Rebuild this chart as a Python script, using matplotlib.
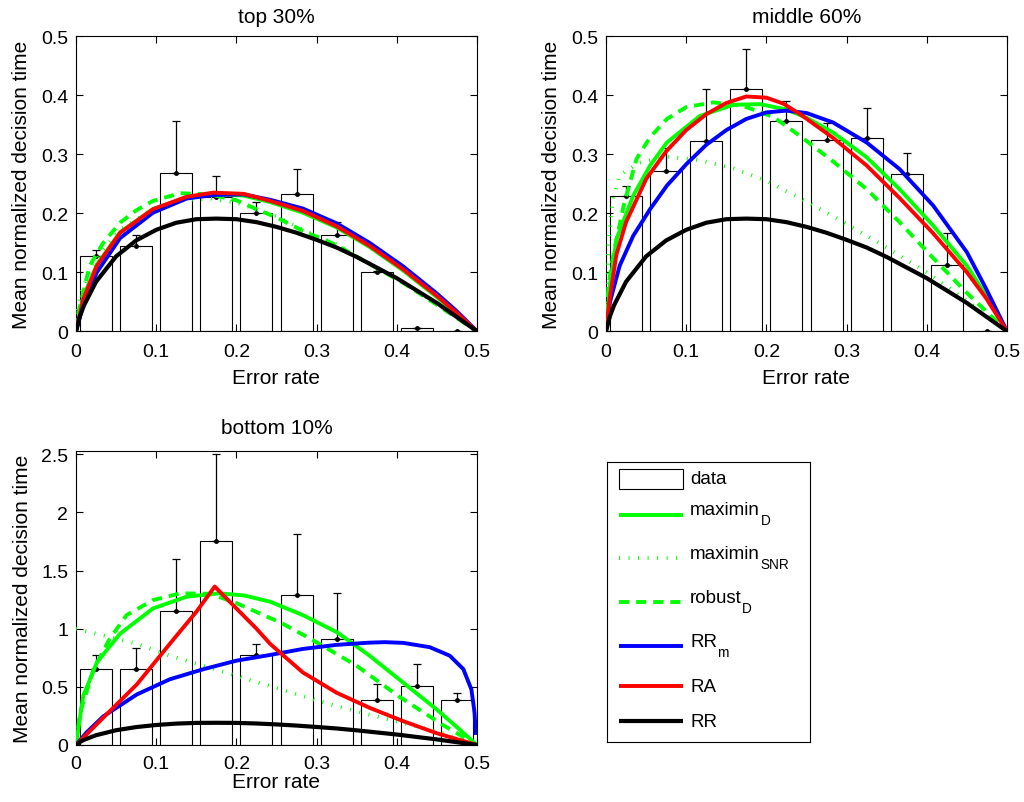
import matplotlib
matplotlib.use("Agg")
import matplotlib.pyplot as plt
from matplotlib.patches import Rectangle

plt.rcParams['font.family'] = ['Liberation Sans', 'DejaVu Sans']

# ---------------- data ----------------
BIN_CENTERS = [0.025, 0.075, 0.125, 0.175, 0.225, 0.275, 0.325, 0.375, 0.425, 0.475]
X_TICKS = [0, 0.1, 0.2, 0.3, 0.4, 0.5]
X_TICKLABELS = ["0", "0.1", "0.2", "0.3", "0.4", "0.5"]
Y_TICKS_TOP = [0, 0.1, 0.2, 0.3, 0.4, 0.5]
Y_TICKLABELS_TOP = ["0", "0.1", "0.2", "0.3", "0.4", "0.5"]
Y_TICKS_BOT = [0, 0.5, 1, 1.5, 2, 2.5]
Y_TICKLABELS_BOT = ["0", "0.5", "1", "1.5", "2", "2.5"]
TITLES = ["top 30%", "middle 60%", "bottom 10%"]
LEGEND_MAIN = ["data", "maximin", "maximin", "robust", "RR", "RA", "RR"]
LEGEND_SUB = ["", "D", "SNR", "D", "m", "", ""]

# data bars: means and upper error (SEM)
TOP_MEAN = [0.127, 0.145, 0.268, 0.228, 0.201, 0.233, 0.164, 0.101, 0.005, 0.0]
TOP_SEM = [0.011, 0.019, 0.088, 0.035, 0.019, 0.042, 0.022, 0.002, 0.001, 0.0]
MID_MEAN = [0.229, 0.272, 0.322, 0.410, 0.356, 0.325, 0.327, 0.266, 0.112, 0.0]
MID_SEM = [0.018, 0.039, 0.089, 0.068, 0.035, 0.028, 0.052, 0.037, 0.054, 0.0]
BOT_MEAN = [0.652, 0.652, 1.155, 1.751, 0.777, 1.290, 0.913, 0.383, 0.507, 0.391]
BOT_SEM = [0.122, 0.186, 0.445, 0.748, 0.095, 0.527, 0.397, 0.139, 0.189, 0.052]

# RR optimal performance curve (same in all panels)
RR_X = [0, 0.005, 0.01, 0.025, 0.05, 0.075, 0.1, 0.125, 0.15, 0.175, 0.2, 0.225,
        0.25, 0.275, 0.3, 0.325, 0.35, 0.375, 0.4, 0.425, 0.45, 0.475, 0.5]
RR_Y = [0, 0.026, 0.044, 0.084, 0.127, 0.154, 0.172, 0.184, 0.190, 0.191, 0.190, 0.185,
        0.177, 0.167, 0.155, 0.142, 0.126, 0.108, 0.090, 0.069, 0.048, 0.024, 0]

# top 30%
TOP_RA_X = [0, 0.009, 0.026, 0.055, 0.096, 0.138, 0.171, 0.209, 0.242, 0.283, 0.325, 0.366, 0.408, 0.45, 0.474, 0.5]
TOP_RA_Y = [0.0, 0.054, 0.111, 0.167, 0.207, 0.228, 0.235, 0.233, 0.221, 0.204, 0.178, 0.145, 0.105, 0.060, 0.032, 0.0]
TOP_RRM_X = TOP_RA_X
TOP_RRM_Y = [0.0, 0.045, 0.100, 0.158, 0.201, 0.225, 0.231, 0.232, 0.223, 0.208, 0.183, 0.150, 0.110, 0.064, 0.035, 0.0]
TOP_MAXD_X = TOP_RA_X
TOP_MAXD_Y = [0.0, 0.058, 0.113, 0.168, 0.207, 0.227, 0.233, 0.230, 0.219, 0.201, 0.176, 0.143, 0.103, 0.058, 0.031, 0.0]
TOP_ROBD_X = [0, 0.003, 0.017, 0.034, 0.055, 0.075, 0.096, 0.13, 0.167, 0.2, 0.225, 0.25, 0.283, 0.325, 0.366, 0.408, 0.45, 0.5]
TOP_ROBD_Y = [0.0, 0.032, 0.111, 0.150, 0.184, 0.205, 0.221, 0.234, 0.232, 0.222, 0.207, 0.193, 0.170, 0.146, 0.114, 0.082, 0.045, 0.0]
TOP_MAXSNR_X = [0, 0.005, 0.017, 0.034, 0.055, 0.096, 0.13, 0.167, 0.2, 0.25, 0.283, 0.325, 0.366, 0.408, 0.45, 0.5]
TOP_MAXSNR_Y = [0.02, 0.06, 0.10, 0.138, 0.172, 0.208, 0.222, 0.225, 0.218, 0.195, 0.172, 0.147, 0.115, 0.082, 0.046, 0.0]

# middle 60%
MID_RA_X = [0, 0.005, 0.013, 0.025, 0.05, 0.075, 0.1, 0.125, 0.15, 0.175, 0.2, 0.221, 0.242, 0.283, 0.325, 0.366, 0.408, 0.45, 0.474, 0.5]
MID_RA_Y = [0.0, 0.06, 0.13, 0.185, 0.258, 0.305, 0.341, 0.368, 0.387, 0.398, 0.396, 0.386, 0.368, 0.328, 0.281, 0.226, 0.166, 0.100, 0.056, 0.0]
MID_MAXD_X = [0, 0.005, 0.013, 0.034, 0.055, 0.076, 0.117, 0.159, 0.192, 0.225, 0.25, 0.283, 0.325, 0.366, 0.408, 0.45, 0.474, 0.5]
MID_MAXD_Y = [0.0, 0.08, 0.156, 0.230, 0.281, 0.320, 0.365, 0.384, 0.385, 0.376, 0.362, 0.337, 0.295, 0.241, 0.179, 0.111, 0.060, 0.0]
MID_ROBD_X = [0, 0.003, 0.009, 0.022, 0.038, 0.055, 0.076, 0.1, 0.134, 0.171, 0.209, 0.242, 0.283, 0.325, 0.366, 0.408, 0.45, 0.5]
MID_ROBD_Y = [0.0, 0.077, 0.128, 0.213, 0.292, 0.329, 0.360, 0.380, 0.388, 0.382, 0.363, 0.331, 0.288, 0.241, 0.185, 0.124, 0.065, 0.0]
MID_MAXSNR_X = [0, 0.003, 0.008, 0.017, 0.042, 0.076, 0.117, 0.159, 0.2, 0.25, 0.3, 0.35, 0.4, 0.45, 0.5]
MID_MAXSNR_Y = [0.0, 0.15, 0.22, 0.264, 0.286, 0.296, 0.290, 0.276, 0.255, 0.220, 0.182, 0.142, 0.100, 0.052, 0.0]
MID_RRM_X = [0, 0.005, 0.017, 0.034, 0.055, 0.076, 0.1, 0.125, 0.15, 0.175, 0.2, 0.225, 0.25, 0.283, 0.325, 0.366, 0.408, 0.45, 0.474, 0.5]
MID_RRM_Y = [0.0, 0.05, 0.111, 0.162, 0.207, 0.247, 0.283, 0.316, 0.341, 0.360, 0.371, 0.374, 0.370, 0.354, 0.320, 0.275, 0.213, 0.134, 0.072, 0.0]

# bottom 10%
BOT_RA_X = [0, 0.034, 0.076, 0.117, 0.150, 0.173, 0.200, 0.225, 0.242, 0.254, 0.283, 0.325, 0.366, 0.408, 0.45, 0.5]
BOT_RA_Y = [0.0, 0.235, 0.522, 0.870, 1.145, 1.362, 1.174, 1.0, 0.870, 0.797, 0.623, 0.449, 0.320, 0.205, 0.101, 0.0]
BOT_MAXD_X = [0, 0.009, 0.026, 0.055, 0.096, 0.138, 0.179, 0.21, 0.242, 0.283, 0.325, 0.366, 0.408, 0.45, 0.474, 0.5]
BOT_MAXD_Y = [0.0, 0.42, 0.71, 0.957, 1.174, 1.275, 1.304, 1.285, 1.232, 1.116, 0.971, 0.768, 0.536, 0.304, 0.159, 0.0]
BOT_ROBD_X = [0, 0.005, 0.022, 0.042, 0.063, 0.096, 0.130, 0.167, 0.2, 0.256, 0.294, 0.35, 0.402, 0.457, 0.5]
BOT_ROBD_Y = [0.0, 0.276, 0.652, 0.913, 1.116, 1.246, 1.304, 1.300, 1.220, 1.049, 0.907, 0.681, 0.420, 0.174, 0.0]
BOT_MAXSNR_X = [0, 0.034, 0.076, 0.117, 0.159, 0.2, 0.242, 0.283, 0.325, 0.366, 0.408, 0.45, 0.5]
BOT_MAXSNR_Y = [1.0, 0.942, 0.870, 0.768, 0.681, 0.594, 0.507, 0.42, 0.333, 0.261, 0.188, 0.116, 0.0]
BOT_RRM_X = [0, 0.013, 0.034, 0.076, 0.117, 0.159, 0.2, 0.242, 0.283, 0.325, 0.366, 0.385, 0.408, 0.441, 0.466, 0.483, 0.493, 0.497, 0.4985]
BOT_RRM_Y = [0.0, 0.107, 0.246, 0.435, 0.565, 0.652, 0.725, 0.774, 0.826, 0.861, 0.880, 0.884, 0.878, 0.841, 0.768, 0.652, 0.478, 0.276, 0.087]

# ---------------- styles ----------------
GREEN = "#00ff00"
BLUE = "#0000ff"
RED = "#ff0000"
BLACK = "#000000"
LW = 2.8
STYLE = {
    "maxd": dict(color=GREEN, lw=LW, ls="-"),
    "maxsnr": dict(color=GREEN, lw=LW, ls=(0, (0.25, 2.2)), dash_capstyle="butt"),
    "robd": dict(color=GREEN, lw=LW, ls=(0, (2.6, 1.8)), dash_capstyle="butt"),
    "rrm": dict(color=BLUE, lw=LW, ls="-"),
    "ra": dict(color=RED, lw=LW, ls="-"),
    "rr": dict(color=BLACK, lw=3.0, ls="-"),
}
LEGEND_KEYS = [None, "maxd", "maxsnr", "robd", "rrm", "ra", "rr"]
TICK_FS = 14
LABEL_FS = 15
LEG_FS = 13.5
SUB_FS = 9.8

W, H = 1024, 803
fig = plt.figure(figsize=(W / 100, H / 100), dpi=100)


def make_ax(l, t, r, b):
    return fig.add_axes([l / W, 1 - b / H, (r - l) / W, (b - t) / H])


ax_top = make_ax(76, 37.3, 477, 332.3)
ax_mid = make_ax(606, 37.3, 1007, 332.3)
ax_bot = make_ax(76, 451.7, 477, 746)

# (axes, means, sems, curves, yticks, yticklabels, ymax, title, title pad, xtick pad, xlabel pad)
panels = [
    (ax_top, TOP_MEAN, TOP_SEM,
     [(TOP_MAXD_X, TOP_MAXD_Y, "maxd"), (TOP_MAXSNR_X, TOP_MAXSNR_Y, "maxsnr"),
      (TOP_ROBD_X, TOP_ROBD_Y, "robd"), (TOP_RRM_X, TOP_RRM_Y, "rrm"),
      (TOP_RA_X, TOP_RA_Y, "ra"), (RR_X, RR_Y, "rr")],
     Y_TICKS_TOP, Y_TICKLABELS_TOP, 0.5, TITLES[0], 10.5, 8.5, 5.5),
    (ax_mid, MID_MEAN, MID_SEM,
     [(MID_MAXD_X, MID_MAXD_Y, "maxd"), (MID_MAXSNR_X, MID_MAXSNR_Y, "maxsnr"),
      (MID_ROBD_X, MID_ROBD_Y, "robd"), (MID_RRM_X, MID_RRM_Y, "rrm"),
      (MID_RA_X, MID_RA_Y, "ra"), (RR_X, RR_Y, "rr")],
     Y_TICKS_TOP, Y_TICKLABELS_TOP, 0.5, TITLES[1], 10.5, 8.5, 5.5),
    (ax_bot, BOT_MEAN, BOT_SEM,
     [(BOT_MAXD_X, BOT_MAXD_Y, "maxd"), (BOT_MAXSNR_X, BOT_MAXSNR_Y, "maxsnr"),
      (BOT_ROBD_X, BOT_ROBD_Y, "robd"), (BOT_RRM_X, BOT_RRM_Y, "rrm"),
      (BOT_RA_X, BOT_RA_Y, "ra"), (RR_X, RR_Y, "rr")],
     Y_TICKS_BOT, Y_TICKLABELS_BOT, 2.53, TITLES[2], 12.5, 7.0, 0.5),
]

for ax, mean, sem, curves, yt, ytl, ymax, title, tpad, xpad, xlpad in panels:
    ax.bar(BIN_CENTERS, mean, width=0.04, facecolor="white", edgecolor="black",
           linewidth=0.8, zorder=1)
    ax.errorbar(BIN_CENTERS, mean, yerr=[[0] * len(sem), sem], fmt="o", ms=2.5,
                color="black", ecolor="black", elinewidth=0.9, capsize=3.2,
                capthick=0.9, zorder=2)
    for i, (xs, ys, key) in enumerate(curves):
        ax.plot(xs, ys, zorder=3 + i, solid_capstyle="butt", **STYLE[key])
    ax.set_xlim(0, 0.5)
    ax.set_ylim(0, ymax)
    ax.set_xticks(X_TICKS)
    ax.set_xticklabels(X_TICKLABELS)
    ax.set_yticks(yt)
    ax.set_yticklabels(ytl)
    ax.tick_params(direction="in", length=5, width=0.8, top=True, right=True,
                   labelsize=TICK_FS)
    ax.tick_params(axis="x", pad=xpad)
    ax.tick_params(axis="y", pad=5.5)
    for s in ax.spines.values():
        s.set_linewidth(0.8)
    ax.set_title(title, fontsize=LABEL_FS, pad=tpad)
    ax.set_xlabel("Error rate", fontsize=LABEL_FS, labelpad=xlpad)
    ax.set_ylabel("Mean normalized decision time", fontsize=LABEL_FS, labelpad=7)

# ---------------- legend (drawn in its own framed axes, pixel layout) ----------------
LEG_L, LEG_T, LEG_R, LEG_B = 606.7, 463, 810, 743
ax_leg = make_ax(LEG_L, LEG_T, LEG_R, LEG_B)
ax_leg.set_xlim(LEG_L, LEG_R)
ax_leg.set_ylim(LEG_B, LEG_T)
ax_leg.set_xticks([])
ax_leg.set_yticks([])
for s in ax_leg.spines.values():
    s.set_linewidth(0.8)

HANDLE_X0, HANDLE_X1, TEXT_X = 619, 683, 690
LINE_Y = [480, 515.7, 559, 603, 647, 686.7, 721.7]
BASE_Y = [484, 515, 559.3, 603.3, 646.7, 692.5, 727]
SUB_DROP = 10

for key, main, sub, ly, by in zip(LEGEND_KEYS, LEGEND_MAIN, LEGEND_SUB, LINE_Y, BASE_Y):
    if key is None:
        ax_leg.add_patch(Rectangle((HANDLE_X0, ly - 10), HANDLE_X1 - HANDLE_X0, 20,
                                   facecolor="white", edgecolor="black", lw=0.8))
    else:
        ax_leg.plot([HANDLE_X0, HANDLE_X1], [ly, ly], solid_capstyle="butt", **STYLE[key])
    t = ax_leg.text(TEXT_X, by, main, fontsize=LEG_FS, va="baseline", ha="left")
    if sub:
        fig.canvas.draw()
        bb = t.get_window_extent()
        x_end = ax_leg.transData.inverted().transform((bb.x1, bb.y0))[0]
        ax_leg.text(x_end + 0.5, by + SUB_DROP, sub, fontsize=SUB_FS, va="baseline", ha="left")

fig.savefig("out.png", dpi=100)
